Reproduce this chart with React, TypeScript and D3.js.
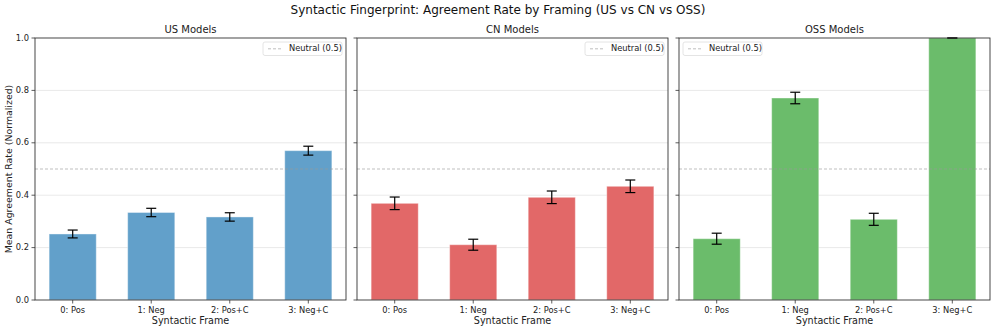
import * as d3 from 'd3';

const frames = ['0: Pos', '1: Neg', '2: Pos+C', '3: Neg+C'];
const groups = ['US Models', 'CN Models', 'OSS Models'];
const usMeans = [0.252, 0.334, 0.317, 0.570];
const usErr = [0.015, 0.016, 0.016, 0.017];
const cnMeans = [0.369, 0.211, 0.392, 0.434];
const cnErr = [0.024, 0.021, 0.024, 0.024];
const ossMeans = [0.234, 0.771, 0.308, 1.0];
const ossErr = [0.021, 0.022, 0.023, 0.0];
const yTicks = [0.0, 0.2, 0.4, 0.6, 0.8, 1.0];
const neutral = 0.5;

// tab colours with alpha 0.7 on white
const colors = ['#62a0ca', '#e26868', '#6bbc6b'];
const means = [usMeans, cnMeans, ossMeans];
const errs = [usErr, cnErr, ossErr];
const legendLeft = [false, false, true];

const W = 996;
const H = 330;
const top = 38;
const bottom = 300;
const panelLeft = [35, 357, 679];
const panelW = 311;
const font = 'DejaVu Sans, sans-serif';

function Panel({ idx }: { idx: number }) {
    const x0 = panelLeft[idx];
    const x = d3.scaleLinear().domain([-0.48, 3.48]).range([x0, x0 + panelW]);
    const y = d3.scaleLinear().domain([0, 1]).range([bottom, top]);
    const barW = x(0.6) - x(0);
    const vals = means[idx];
    const err = errs[idx];
    const legendX = legendLeft[idx] ? x0 + 4 : x0 + panelW - 83;

    return <g>
        {/* grid */}
        {yTicks.slice(1, -1).map(t =>
            <line key={t} x1={x0} x2={x0 + panelW} y1={y(t)} y2={y(t)} stroke='#b0b0b0' strokeOpacity={0.35} strokeWidth={0.8}/>
        )}
        {/* bars */}
        {vals.map((v, i) =>
            <rect key={i} x={x(i) - barW / 2} y={y(v)} width={barW} height={y(0) - y(v)}
                fill={colors[idx]} stroke='#ffffff' strokeOpacity={0.4} strokeWidth={1}/>
        )}
        {/* error bars */}
        {vals.map((v, i) => {
            const cx = x(i);
            const y1 = y(v + err[i]);
            const y2 = y(v - err[i]);
            return <g key={i} stroke='#000' strokeWidth={1.2}>
                <line x1={cx} x2={cx} y1={y1} y2={y2}/>
                <line x1={cx - 5} x2={cx + 5} y1={y1} y2={y1}/>
                <line x1={cx - 5} x2={cx + 5} y1={y2} y2={y2}/>
            </g>;
        })}
        {/* neutral line */}
        <line x1={x0} x2={x0 + panelW} y1={y(neutral)} y2={y(neutral)} stroke='#999' strokeOpacity={0.7}
            strokeWidth={0.9} strokeDasharray='3,2'/>
        {/* spines */}
        <rect x={x0} y={top} width={panelW} height={bottom - top} fill='none' stroke='#333' strokeWidth={0.9}/>
        {/* y ticks */}
        {yTicks.map(t => <g key={t}>
            <line x1={x0 - 3.5} x2={x0} y1={y(t)} y2={y(t)} stroke='#333' strokeWidth={0.8}/>
            {idx === 0 && <text x={x0 - 6} y={y(t)} dy='0.32em' textAnchor='end' fontSize={8.3} fill='#222'>{t.toFixed(1)}</text>}
        </g>)}
        {/* x ticks */}
        {frames.map((f, i) => <g key={f}>
            <line x1={x(i)} x2={x(i)} y1={bottom} y2={bottom + 3.5} stroke='#333' strokeWidth={0.8}/>
            <text x={x(i)} y={bottom + 12.5} textAnchor='middle' fontSize={8.3} fill='#222'>{f}</text>
        </g>)}
        <text x={x0 + panelW / 2} y={bottom + 23.5} textAnchor='middle' fontSize={9.6} fill='#222'>Syntactic Frame</text>
        <text x={x0 + panelW / 2} y={top - 5} textAnchor='middle' fontSize={10} fill='#222'>{groups[idx]}</text>
        {/* legend */}
        <g transform={`translate(${legendX}, ${top + 4})`}>
            <rect width={79} height={13.5} rx={2} fill='#fff' fillOpacity={0.8} stroke='#ddd' strokeWidth={0.8}/>
            <line x1={5} x2={19} y1={6.8} y2={6.8} stroke='#999' strokeOpacity={0.7} strokeWidth={0.9} strokeDasharray='3,2'/>
            <text x={26} y={6.8} dy='0.32em' fontSize={8.3} fill='#222'>Neutral (0.5)</text>
        </g>
    </g>;
}

function App() {
    return <svg width={W} height={H} style={{ display: 'block', position: 'absolute', left: 0, top: 0 }} fontFamily={font}>
        <rect width={W} height={H} fill='#fff'/>
        <text x={498} y={14} textAnchor='middle' fontSize={12} fill='#111'>
            Syntactic Fingerprint: Agreement Rate by Framing (US vs CN vs OSS)
        </text>
        <text transform={`translate(12, ${(top + bottom) / 2}) rotate(-90)`} textAnchor='middle' fontSize={9.4} fill='#222'>
            Mean Agreement Rate (Normalized)
        </text>
        {groups.map((g, i) => <Panel key={g} idx={i}/>)}
    </svg>;
}

export default App;
